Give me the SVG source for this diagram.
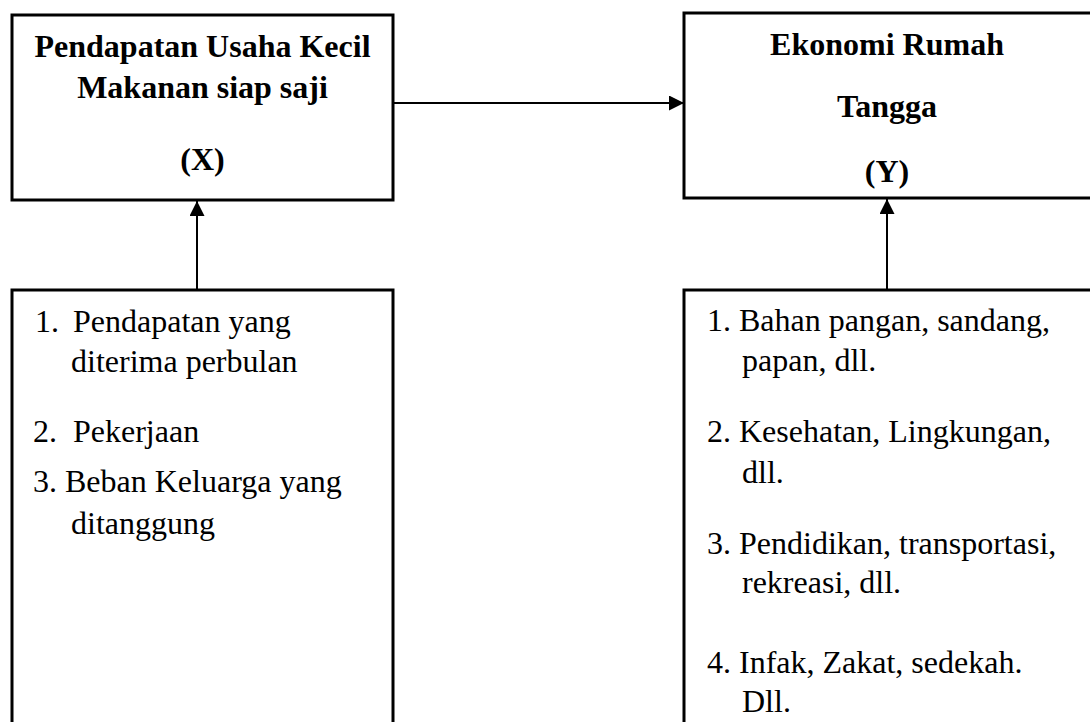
<svg xmlns="http://www.w3.org/2000/svg" width="1090" height="722" viewBox="0 0 1090 722">
<style>
.box{fill:#fff;stroke:#000;stroke-width:3}
.t{font-family:"Liberation Serif","Times New Roman",serif;font-size:32px;fill:#000}
.b{font-weight:bold;text-anchor:middle}
.c{stroke:#000;stroke-width:2;fill:none}
</style>
<defs>
<marker id="ah" markerUnits="userSpaceOnUse" markerWidth="16" markerHeight="16" refX="15" refY="7.5" orient="auto">
<path d="M0,0 L15,7.5 L0,15 z" fill="#000"/>
</marker>
</defs>
<rect width="1090" height="722" fill="#fff"/>
<g id="node-x">
<rect class="box" x="12" y="15" width="381" height="185"/>
<text class="t b" x="202.5" y="57">Pendapatan Usaha Kecil</text>
<text class="t b" x="202.5" y="98">Makanan siap saji</text>
<text class="t b" x="202.5" y="170">(X)</text>
</g>
<g id="node-y">
<rect class="box" x="684" y="13" width="420" height="185"/>
<text class="t b" x="887" y="55">Ekonomi Rumah</text>
<text class="t b" x="887" y="117">Tangga</text>
<text class="t b" x="887" y="182">(Y)</text>
</g>
<g id="node-x-indicators">
<rect class="box" x="12" y="290" width="381" height="450"/>
<text class="t" x="35" y="332">1.</text>
<text class="t" x="73" y="332">Pendapatan yang</text>
<text class="t" x="71" y="372">diterima perbulan</text>
<text class="t" x="33" y="442">2.</text>
<text class="t" x="73" y="442">Pekerjaan</text>
<text class="t" x="33" y="492">3. Beban Keluarga yang</text>
<text class="t" x="71" y="534">ditanggung</text>
</g>
<g id="node-y-indicators">
<rect class="box" x="684" y="290" width="420" height="450"/>
<text class="t" x="707" y="331">1. Bahan pangan, sandang,</text>
<text class="t" x="742" y="371">papan, dll.</text>
<text class="t" x="707" y="442">2. Kesehatan, Lingkungan,</text>
<text class="t" x="742" y="483">dll.</text>
<text class="t" x="707" y="554">3. Pendidikan, transportasi,</text>
<text class="t" x="742" y="593">rekreasi, dll.</text>
<text class="t" x="707" y="673">4. Infak, Zakat, sedekah.</text>
<text class="t" x="742" y="712">Dll.</text>
</g>
<g id="connectors">
<line class="c" x1="394" y1="103" x2="684" y2="103" marker-end="url(#ah)"/>
<line class="c" x1="197" y1="290" x2="197" y2="201" marker-end="url(#ah)"/>
<line class="c" x1="887" y1="290" x2="887" y2="199" marker-end="url(#ah)"/>
</g>
</svg>
